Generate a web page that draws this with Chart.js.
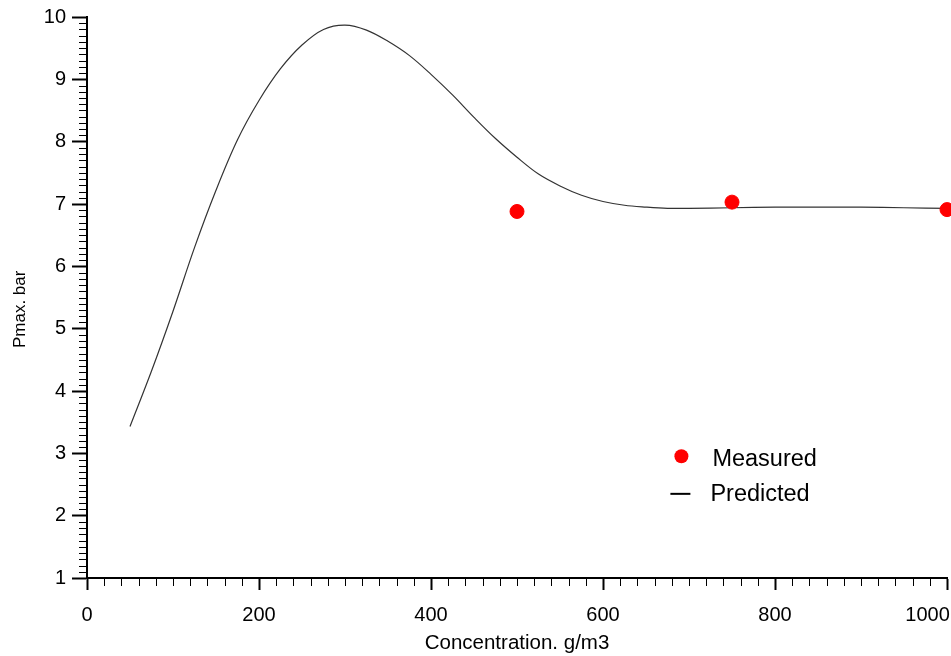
<!DOCTYPE html>
<html>
<head>
<meta charset="utf-8">
<script src="https://cdn.jsdelivr.net/npm/chart.js@4/dist/chart.umd.min.js"></script>
<style>
  html, body { margin: 0; padding: 0; background: #fff; }
  #wrap { width: 951px; height: 656px; position: relative; }
</style>
</head>
<body>
<div id="wrap"><canvas id="chart" width="951" height="656"></canvas></div>
<script>
// predicted curve
const predX = [50, 75, 100, 125, 150, 175, 200, 225, 250, 275, 300, 325, 350, 375, 400,
  425, 450, 475, 500, 525, 550, 575, 600, 625, 650, 675, 700, 750, 800, 850, 900, 950, 1000];
const predY = [3.43, 4.32, 5.28, 6.30, 7.22, 8.03, 8.66, 9.17, 9.55, 9.80, 9.87, 9.79, 9.61, 9.38, 9.08,
  8.75, 8.39, 8.05, 7.75, 7.48, 7.29, 7.14, 7.04, 6.98, 6.95, 6.93, 6.93, 6.94, 6.95, 6.95, 6.95, 6.94, 6.93];

// measured points
const measX = [500, 750, 1000];
const measY = [6.88, 7.03, 6.91];

const xTicks = [0, 200, 400, 600, 800, 1000];
const yTicks = [1, 2, 3, 4, 5, 6, 7, 8, 9, 10];
const minorStepX = 20;
const minorStepY = 0.1;

const FONT = "'Liberation Sans', Arial, sans-serif";

// short minor ticks, drawn via the scales
const minorTicks = {
  id: "minorTicks",
  afterDraw(chart) {
    const { ctx } = chart;
    const xs = chart.scales.x, ys = chart.scales.y;
    const area = chart.chartArea;
    ctx.save();
    ctx.strokeStyle = "#000";
    ctx.lineWidth = 1;
    ctx.beginPath();
    const nx = Math.round((xs.max - xs.min) / minorStepX);
    for (let i = 0; i <= nx; i++) {
      const v = xs.min + i * minorStepX;
      if (xTicks.includes(v)) continue;
      const px = Math.round(xs.getPixelForValue(v)) + 0.5;
      ctx.moveTo(px, area.bottom);
      ctx.lineTo(px, area.bottom + 8);
    }
    const ny = Math.round((ys.max - ys.min) / minorStepY);
    for (let i = 0; i <= ny; i++) {
      if (i % 10 === 0) continue;
      const v = ys.min + i * minorStepY;
      const py = Math.round(ys.getPixelForValue(v)) + 0.5;
      ctx.moveTo(area.left - 8, py);
      ctx.lineTo(area.left, py);
    }
    ctx.stroke();
    ctx.restore();
  },
};

// legend inside the plot, lower right
const innerLegend = {
  id: "innerLegend",
  afterDraw(chart) {
    const { ctx } = chart;
    const xs = chart.scales.x, ys = chart.scales.y;
    const x0 = xs.getPixelForValue(690);
    const rows = [ys.getPixelForValue(2.92), ys.getPixelForValue(2.35)];
    ctx.save();
    ctx.font = `23.5px ${FONT}`;
    ctx.textBaseline = "middle";
    chart.data.datasets.forEach((ds, i) => {
      const y = rows[i];
      if (ds.showLine === false) {
        ctx.fillStyle = ds.backgroundColor;
        ctx.beginPath();
        ctx.arc(x0 + 1, y - 2, ds.pointRadius, 0, Math.PI * 2);
        ctx.fill();
        ctx.fillStyle = "#000";
        ctx.fillText(ds.label, x0 + 32, y + 1);
      } else {
        ctx.strokeStyle = "#000";
        ctx.lineWidth = 2;
        ctx.beginPath();
        ctx.moveTo(x0 - 10, y);
        ctx.lineTo(x0 + 10, y);
        ctx.stroke();
        ctx.fillStyle = "#000";
        ctx.fillText(ds.label, x0 + 30, y + 1);
      }
    });
    ctx.restore();
  },
};

new Chart(document.getElementById("chart"), {
  type: "scatter",
  data: {
    datasets: [
      {
        label: "Measured",
        data: measX.map((x, i) => ({ x, y: measY[i] })),
        showLine: false,
        backgroundColor: "#ff0000",
        borderColor: "#ff0000",
        pointRadius: 7,
        pointHoverRadius: 7,
        clip: false,
      },
      {
        label: "Predicted",
        data: predX.map((x, i) => ({ x, y: predY[i] })),
        showLine: true,
        borderColor: "#333",
        borderWidth: 1.2,
        pointRadius: 0,
        tension: 0.35,
        clip: false,
      },
    ],
  },
  options: {
    responsive: false,
    animation: false,
    events: [],
    layout: { autoPadding: false, padding: { top: 17, right: 4, left: 0, bottom: 0 } },
    plugins: { legend: { display: false }, tooltip: { enabled: false } },
    scales: {
      x: {
        type: "linear",
        min: 0,
        max: 1000,
        afterBuildTicks: (s) => { s.ticks = xTicks.map(v => ({ value: v })); },
        afterFit: (s) => { s.height = 78; s.paddingLeft = 0; s.paddingRight = 0; },
        ticks: {
          color: "#000", font: { family: FONT, size: 20 }, padding: 13, maxRotation: 0, autoSkip: false,
          // last label pulled in from the edge, as in the original
          callback: (v) => v === xTicks[xTicks.length - 1] ? String(v) + " ".repeat(7) : String(v),
        },
        grid: { drawOnChartArea: false, tickLength: 12, tickColor: "#000", tickWidth: 2 },
        border: { color: "#000", width: 2 },
        title: { display: true, text: "Concentration. g/m3", color: "#000", font: { family: FONT, size: 20.5 }, padding: { top: 0, bottom: 0 } },
      },
      y: {
        type: "linear",
        min: 1,
        max: 10,
        afterBuildTicks: (s) => { s.ticks = yTicks.map(v => ({ value: v })); },
        afterFit: (s) => { s.width = 87; s.paddingTop = 0; s.paddingBottom = 0; },
        ticks: { color: "#000", font: { family: FONT, size: 20 }, padding: 6 },
        grid: { drawOnChartArea: false, tickLength: 15, tickColor: "#000", tickWidth: 2 },
        border: { color: "#000", width: 2 },
        title: { display: true, text: "Pmax. bar     ", color: "#000", font: { family: FONT, size: 17 }, padding: { top: 10, bottom: 0 } },
      },
    },
  },
  plugins: [minorTicks, innerLegend],
});
</script>
</body>
</html>
